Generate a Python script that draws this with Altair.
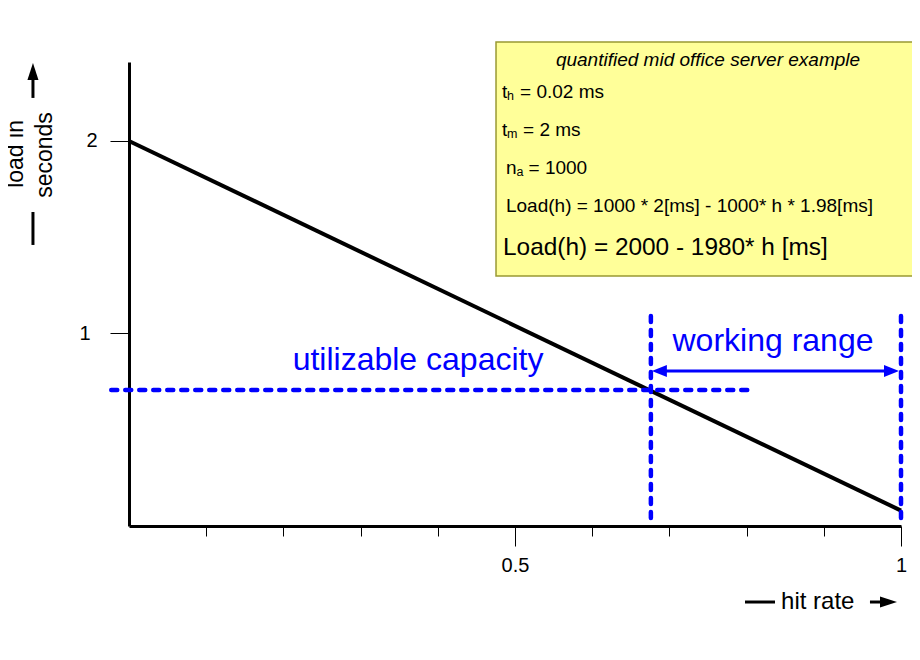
import altair as alt
import pandas as pd

FONT = "Liberation Sans"
BLUE = "#0000ff"

# ---- main series: load (s) versus hit rate ----
hit_rate = [0.0, 1.0]
load_s = [2.0, 0.08]

# ---- axis ticks ----
x_ticks = [0.1, 0.2, 0.3, 0.4, 0.5, 0.6, 0.7, 0.8, 0.9, 1.0]
y_ticks = [1, 2]

# ---- blue annotations (data units) ----
cap_level = 0.707
cap_from, cap_to = -0.023, 0.804
range_lo, range_hi = 0.676, 1.0
range_bottom, range_top = 0.042, 1.096
range_arrow_y = 0.805
blue_text = ["utilizable capacity", "working range"]
blue_text_x = [0.3744, 0.8342]
blue_text_y = [0.862, 0.961]

# ---- info box ----
box_x = [0.4754, 1.0246]
box_y = [1.299, 2.514]
box_title = "quantified mid office server example"
box_title_x = 0.75
box_title_y = 2.418
box_text = ["t", "= 0.02 ms", "t", "= 2 ms", "n", "= 1000",
            "Load(h) = 1000 * 2[ms] - 1000* h * 1.98[ms]",
            "Load(h) = 2000 - 1980* h [ms]"]
box_text_x = [0.4832, 0.5065, 0.4832, 0.5104, 0.4883, 0.5175, 0.4883, 0.4845]
box_text_y = [2.2545, 2.2545, 2.0571, 2.0571, 1.8597, 1.8597, 1.6623, 1.4442]
box_text_size = [19, 19, 19, 19, 19, 19, 19, 24.4]
box_sub = ["h", "m", "a"]
box_sub_x = [0.4896, 0.4896, 0.5020]
box_sub_y = [2.2338, 2.0364, 1.8390]

# ---- axis captions ----
ylab_text = ["load in", "seconds"]
ylab_x = [-0.147, -0.1088]
ylab_y = [1.9325, 1.927]
xlab_text = ["hit rate"]
xlab_x = [0.8446]
xlab_y = [-0.395]

XS = alt.Scale(domain=[0, 1], nice=False, zero=False)
YS = alt.Scale(domain=[0, 2.41], nice=False, zero=False)

X_AXIS = alt.Axis(
    values=x_ticks, title=None, grid=False,
    domainColor="black", domainWidth=3,
    tickColor="black", tickWidth=1,
    tickSize={"condition": {"test": "datum.value == 0.5 || datum.value == 1", "value": 20}, "value": 10},
    labelExpr="datum.value == 0.5 ? '0.5' : (datum.value == 1 ? '1' : '')",
    labelFont=FONT, labelFontSize=20, labelColor="black", labelPadding=9,
    labelFlush=False, labelOverlap=False,
)
Y_AXIS = alt.Axis(
    values=y_ticks, title=None, grid=False,
    domainColor="black", domainWidth=3,
    tickColor="black", tickWidth=1, tickSize=19,
    labelFont=FONT, labelFontSize=20, labelColor="black",
    labelPadding={"condition": {"test": "datum.value == 1", "value": 20}, "value": 13},
)


def X(f):
    return alt.X(f, type="quantitative", scale=XS, axis=X_AXIS)


def Y(f):
    return alt.Y(f, type="quantitative", scale=YS, axis=Y_AXIS)


def X2(f):
    return alt.X2(f)


def Y2(f):
    return alt.Y2(f)


# box
box_df = pd.DataFrame({"x": [box_x[0]], "x2": [box_x[1]], "y": [box_y[0]], "y2": [box_y[1]]})
box = alt.Chart(box_df).mark_rect(fill="#ffff99", stroke="#999933", strokeWidth=1.5).encode(
    x=X("x"), x2=X2("x2"), y=Y("y"), y2=Y2("y2"))

title_df = pd.DataFrame({"x": [box_title_x], "y": [box_title_y], "t": [box_title]})
title = alt.Chart(title_df).mark_text(font=FONT, fontSize=19, fontStyle="italic", color="black",
                                      align="center", baseline="middle").encode(
    x=X("x"), y=Y("y"), text="t:N")

bt_df = pd.DataFrame({"x": box_text_x, "y": box_text_y, "t": box_text, "s": box_text_size})
btext = alt.Chart(bt_df).mark_text(font=FONT, color="black", align="left", baseline="middle").encode(
    x=X("x"), y=Y("y"), text="t:N", size=alt.Size("s:Q", scale=None, legend=None))

bs_df = pd.DataFrame({"x": box_sub_x, "y": box_sub_y, "t": box_sub})
bsub = alt.Chart(bs_df).mark_text(font=FONT, fontSize=12.5, color="black", align="left", baseline="middle").encode(
    x=X("x"), y=Y("y"), text="t:N")

# main line
line_df = pd.DataFrame({"h": hit_rate, "load": load_s})
line = alt.Chart(line_df).mark_line(color="black", strokeWidth=4).encode(x=X("h"), y=Y("load"))

# blue dashed lines
dash_df = pd.DataFrame({
    "x": [cap_from, range_lo, range_hi],
    "x2": [cap_to, range_lo, range_hi],
    "y": [cap_level, range_bottom, range_bottom],
    "y2": [cap_level, range_top, range_top],
})
dashes = alt.Chart(dash_df).mark_rule(color=BLUE, strokeWidth=4.5, strokeDash=[6, 8], strokeCap="round").encode(
    x=X("x"), x2=X2("x2"), y=Y("y"), y2=Y2("y2"))

# working range arrow
shaft_df = pd.DataFrame({"x": [range_lo + 0.012], "x2": [range_hi - 0.014],
                         "y": [range_arrow_y], "y2": [range_arrow_y]})
shaft = alt.Chart(shaft_df).mark_rule(color=BLUE, strokeWidth=3).encode(
    x=X("x"), x2=X2("x2"), y=Y("y"), y2=Y2("y2"))
head_r = alt.Chart(pd.DataFrame({"x": [range_hi - 0.0123], "y": [range_arrow_y]})).mark_point(
    shape="M 1 0 L -1 -0.8 L -1 0.8 Z", size=225, filled=True, color=BLUE, opacity=1, strokeWidth=0).encode(
    x=X("x"), y=Y("y"))
head_l = alt.Chart(pd.DataFrame({"x": [range_lo + 0.0110], "y": [range_arrow_y]})).mark_point(
    shape="M -1 0 L 1 -0.8 L 1 0.8 Z", size=225, filled=True, color=BLUE, opacity=1, strokeWidth=0).encode(
    x=X("x"), y=Y("y"))

btx_df = pd.DataFrame({"x": blue_text_x, "y": blue_text_y, "t": blue_text})
btx = alt.Chart(btx_df).mark_text(font=FONT, fontSize=32, color=BLUE, align="center", baseline="middle").encode(
    x=X("x"), y=Y("y"), text="t:N")

# axis captions with arrows
yl_df = pd.DataFrame({"x": ylab_x, "y": ylab_y, "t": ylab_text})
ylab = alt.Chart(yl_df).mark_text(font=FONT, fontSize=23, color="black", angle=270,
                                  align="center", baseline="middle").encode(
    x=X("x"), y=Y("y"), text="t:N")
xl_df = pd.DataFrame({"x": xlab_x, "y": xlab_y, "t": xlab_text})
xlab = alt.Chart(xl_df).mark_text(font=FONT, fontSize=24, color="black",
                                  align="left", baseline="middle").encode(
    x=X("x"), y=Y("y"), text="t:N")

cap_seg_df = pd.DataFrame({
    "x": [-0.1244, -0.1244, 0.7979, 0.9598],
    "x2": [-0.1244, -0.1244, 0.8368, 0.978],
    "y": [2.2234, 1.4597, -0.3948, -0.3948],
    "y2": [2.345, 1.631, -0.3948, -0.3948],
})
cap_seg = alt.Chart(cap_seg_df).mark_rule(color="black", strokeWidth=3).encode(
    x=X("x"), x2=X2("x2"), y=Y("y"), y2=Y2("y2"))
up_head = alt.Chart(pd.DataFrame({"x": [-0.1244], "y": [2.361]})).mark_point(
    shape="M 0 -1 L -0.65 1 L 0.65 1 Z", size=289, filled=True, color="black", opacity=1, strokeWidth=0).encode(
    x=X("x"), y=Y("y"))
right_head = alt.Chart(pd.DataFrame({"x": [0.9838], "y": [-0.3948]})).mark_point(
    shape="M 1 0 L -1 -0.65 L -1 0.65 Z", size=289, filled=True, color="black", opacity=1, strokeWidth=0).encode(
    x=X("x"), y=Y("y"))

chart = alt.layer(
    box, title, btext, bsub, line, dashes, shaft, head_r, head_l, btx,
    ylab, xlab, cap_seg, up_head, right_head,
).properties(
    width=772, height=464,
    autosize=alt.AutoSizeParams(type="none"),
    padding={"left": 121, "top": 54, "right": 11, "bottom": 96},
    background="white",
).configure_view(strokeWidth=0)

chart.save("out.html", embed_options={"renderer": "svg", "actions": False})
